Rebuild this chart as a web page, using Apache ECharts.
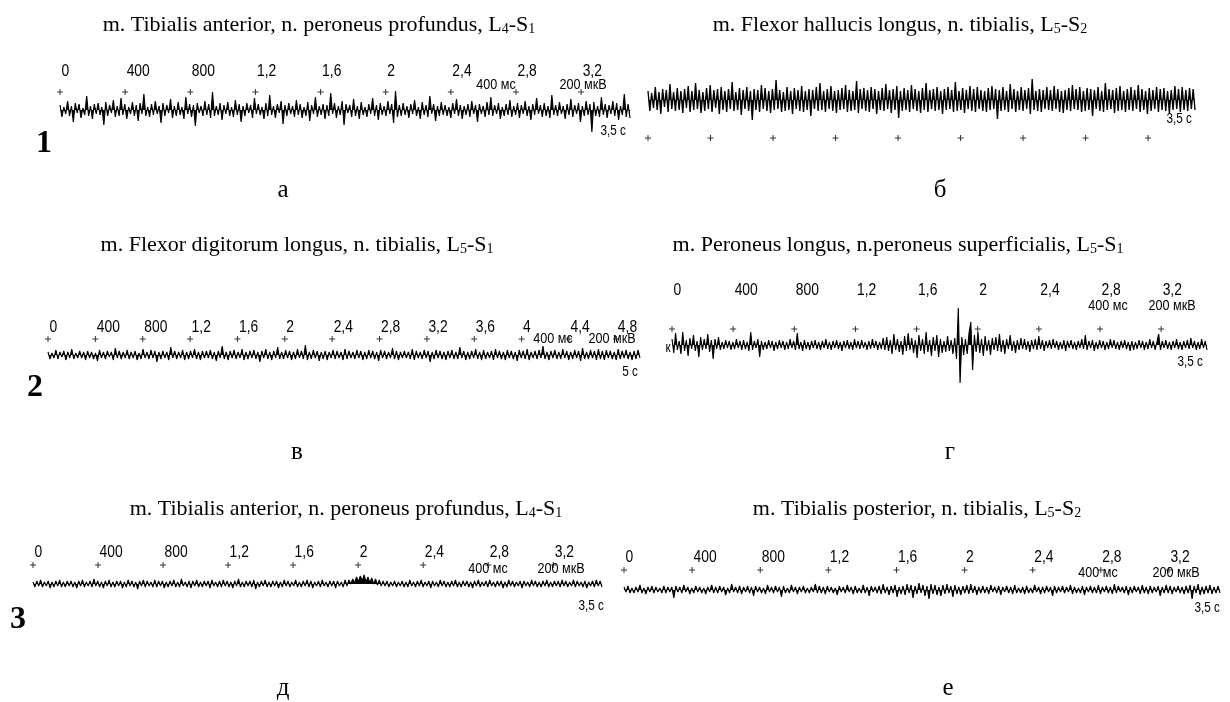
<!DOCTYPE html>
<html><head><meta charset="utf-8">
<script src="https://cdn.jsdelivr.net/npm/echarts@6/dist/echarts.min.js"></script>
<style>html,body{margin:0;padding:0;background:#fff}#c{width:1230px;height:702px}</style>
</head><body><div id="c"></div>
<script>
// ---- data (EMG amplitudes, display units, + = up) ----
const traceA=[5,-7,3,-4,9,-6,4,-12,7,-3,6,-8,2,-5,14,-6,4,-9,6,-4,
7,-5,3,-15,8,-6,5,-3,10,-7,4,-6,12,-5,6,-9,3,-4,8,-6,
5,-11,7,-4,16,-6,3,-7,6,-5,9,-4,4,-13,7,-6,5,-3,11,-8,
4,-6,8,-5,3,-9,13,-4,6,-7,5,-16,7,-3,4,-6,9,-5,6,-8,
18,-6,4,-5,7,-10,5,-4,8,-6,3,-7,10,-5,6,-12,4,-6,7,-3,
5,-8,12,-4,6,-5,3,-9,7,-6,15,-5,4,-8,6,-3,9,-14,5,-6,
7,-4,4,-7,10,-5,6,-8,3,-6,8,-11,5,-4,13,-7,4,-5,6,-9,
5,-6,17,-4,7,-8,4,-5,9,-15,6,-3,5,-7,11,-6,4,-9,8,-5,
3,-7,6,-4,12,-6,5,-10,7,-5,4,-6,9,-4,6,-13,19,-7,5,-6,
7,-5,4,-8,6,-4,10,-6,3,-9,8,-5,5,-7,14,-4,6,-11,4,-6,
8,-5,5,-6,3,-8,7,-4,11,-6,5,-9,4,-5,6,-7,9,-4,5,-12,
6,-4,4,-7,8,-5,13,-6,5,-4,7,-9,3,-6,6,-5,10,-7,4,-5,
7,-8,5,-4,9,-6,4,-10,6,-5,12,-4,5,-7,7,-6,4,-8,15,-5,
5,-6,8,-4,4,-9,6,-5,11,-7,5,-4,7,-12,4,-6,9,-5,6,-22,
8,-6,4,-7,13,-5,6,-8,5,-4,9,-6,7,-10,4,-5,16,-7,6,-8];
const traceB=[9,-11,7,-8,13,-10,8,-14,11,-7,10,-12,16,-9,8,-11,12,-10,9,-13,
11,-8,14,-12,9,-10,17,-9,10,-13,8,-11,12,-9,15,-12,10,-8,11,-14,
13,-10,9,-12,11,-9,18,-11,8,-10,12,-15,10,-9,13,-11,9,-20,11,-10,
10,-12,15,-9,12,-11,9,-13,11,-10,20,-9,10,-12,8,-11,13,-10,9,-14,
12,-9,10,-11,14,-12,9,-10,11,-16,10,-9,13,-11,17,-10,9,-12,11,-9,
14,-11,9,-13,10,-10,12,-9,15,-12,10,-11,9,-10,19,-13,11,-9,12,-11,
10,-12,13,-9,11,-14,9,-10,12,-11,16,-9,10,-13,11,-10,14,-18,9,-11,
12,-10,10,-12,15,-9,11,-11,9,-13,12,-10,17,-12,10,-9,11,-11,13,-10,
9,-14,11,-10,13,-9,10,-12,18,-11,9,-10,12,-13,10,-9,14,-11,11,-12,
13,-9,10,-11,9,-12,12,-10,14,-9,11,-19,10,-11,13,-10,9,-12,16,-9,
11,-12,9,-10,13,-11,10,-9,12,-14,21,-10,9,-11,11,-12,10,-9,13,-10,
10,-11,14,-9,11,-12,9,-13,10,-10,12,-11,15,-9,11,-10,13,-12,9,-11,
12,-10,11,-16,10,-9,13,-11,9,-12,17,-10,11,-9,10,-13,12,-11,14,-10,
9,-12,11,-10,13,-11,10,-9,15,-12,11,-10,9,-14,12,-11,10,-9,13,-12,
11,-10,12,-11,9,-13,10,-10,14,-9,11,-12,13,-10,10,-11,12,-9,11,-10];
const traceV=[3,-4,2,-3,5,-4,3,-2,4,-5,3,-3,6,-4,2,-3,4,-3,3,-5,
4,-3,3,-4,2,-6,5,-3,3,-4,4,-2,3,-5,7,-3,4,-4,3,-3,
5,-4,3,-3,4,-5,2,-4,6,-3,3,-4,5,-3,4,-7,3,-4,4,-3,
3,-5,8,-3,4,-4,3,-3,5,-5,3,-4,4,-3,6,-4,3,-5,4,-3,
4,-3,5,-4,3,-6,4,-3,9,-4,3,-5,4,-3,5,-4,3,-3,6,-5,
3,-4,4,-3,5,-4,3,-7,4,-3,6,-4,3,-5,4,-3,8,-4,3,-4,
5,-3,4,-5,3,-4,6,-3,4,-4,10,-5,3,-4,5,-3,4,-6,3,-4,
4,-5,3,-3,5,-4,4,-3,3,-5,6,-4,4,-3,3,-4,5,-3,4,-5,
3,-4,5,-3,4,-4,3,-6,5,-3,4,-4,3,-3,7,-4,4,-5,3,-3,
4,-3,3,-4,6,-5,4,-3,3,-4,5,-3,4,-7,3,-4,5,-3,4,-4,
3,-5,4,-3,5,-4,3,-4,8,-3,4,-5,3,-4,4,-3,6,-4,3,-5,
5,-4,3,-3,4,-5,6,-3,4,-4,3,-5,5,-3,4,-4,3,-6,5,-3,
4,-4,6,-5,3,-3,4,-4,5,-3,9,-4,3,-5,4,-3,5,-4,3,-4,
6,-3,4,-5,3,-4,5,-3,4,-6,7,-4,3,-4,5,-3,4,-5,6,-4,
4,-5,5,-3,4,-4,3,-5,6,-4,4,-3,5,-4,3,-5,4,-4,5,-3];
const traceG=[6,-8,12,-5,4,-9,13,-6,5,-11,7,-4,10,-6,4,-12,8,-5,6,-4,
11,-7,5,-14,6,-4,8,-5,3,-4,5,-3,4,-5,3,-4,6,-3,4,-5,
5,-4,3,-6,13,-5,4,-3,6,-12,4,-5,3,-4,5,-3,4,-6,3,-4,
5,-3,4,-5,3,-4,6,-3,4,-5,12,-4,3,-6,5,-4,3,-5,4,-3,
5,-4,3,-5,4,-3,6,-4,3,-5,4,-3,5,-4,3,-6,4,-3,5,-4,
3,-5,6,-3,4,-4,5,-3,3,-5,4,-4,6,-3,4,-5,3,-4,7,-5,
8,-6,5,-9,11,-5,6,-7,4,-10,9,-6,12,-5,7,-8,5,-13,10,-6,
6,-9,13,-7,5,-11,8,-6,10,-12,6,-8,4,-7,9,-6,5,-9,7,-14,
37,-38,8,-10,6,-9,12,23,-25,10,-7,13,-8,6,-11,9,-6,5,-10,7,
-5,8,-6,11,-7,5,-9,6,-4,10,-6,4,-8,5,-5,7,-4,6,-5,4,
-7,5,-4,6,-5,9,-4,5,-6,4,-3,5,-4,6,-3,4,-5,3,-4,5,
-6,4,-3,5,-4,3,-5,4,-3,6,-4,10,-5,4,-3,5,-6,3,-4,5,
-3,4,-5,3,-4,6,-3,5,-4,3,-5,4,-3,5,-4,3,-6,4,-5,3,
-4,5,-3,4,-5,3,-4,6,-3,4,-5,3,11,-5,4,-3,5,-4,3,-5,
4,-3,6,-4,3,-5,4,-3,5,-4,7,-3,4,-5,3,-4,6,-3,4,-5];
const traceD=[2,-3,3,-2,4,-3,2,-2,3,-4,2,-3,3,-2,4,-3,2,-3,3,-2,
3,-3,2,-4,3,-2,4,-3,2,-2,3,-3,5,-2,3,-3,2,-4,3,-2,
4,-3,2,-3,3,-2,3,-4,2,-3,4,-2,3,-3,2,-5,3,-2,4,-3,
3,-2,2,-3,4,-3,3,-2,3,-4,2,-3,3,-2,4,-3,2,-3,5,-2,
2,-3,3,-4,3,-2,4,-3,2,-3,3,-2,3,-4,4,-2,2,-3,3,-3,
4,-2,3,-3,2,-4,3,-2,5,-3,2,-3,3,-2,3,-3,4,-5,2,-3,
3,-2,4,-3,2,-3,3,-2,3,-4,2,-3,4,-2,3,-3,2,-2,4,-3,
2,-3,3,-2,4,-3,3,-4,2,-2,3,-3,4,-2,2,-3,3,-2,3,-4,
3,-2,2,-3,4,-2,4,0,5,1,7,2,8,3,9,2,7,1,6,0,
5,-1,4,-2,3,-2,3,-3,2,-2,3,-3,2,-2,3,-3,2,-3,4,-2,
2,-3,3,-2,4,-3,2,-2,3,-4,3,-2,2,-3,4,-2,3,-3,2,-3,
3,-2,4,-3,2,-3,3,-2,3,-3,2,-4,3,-2,4,-3,2,-2,3,-3,
4,-2,2,-3,3,-2,3,-4,2,-3,4,-2,3,-3,2,-2,3,-4,3,-2,
2,-3,4,-2,3,-3,2,-3,3,-2,4,-3,2,-3,3,-2,3,-3,4,-2,
3,-3,2,-2,4,-3,3,-2,2,-3,3,-4,2,-2,3,-3,4,-2,3,-3];
const traceE=[3,-2,4,-3,2,-3,3,-2,5,-3,2,-4,3,-2,4,-3,3,-2,2,-3,
4,-3,3,-2,3,-8,4,-2,3,-3,5,-2,3,-4,2,-3,4,-2,3,-3,
2,-4,3,-2,5,-3,3,-3,4,-2,3,-5,2,-3,6,-2,3,-3,4,-4,
3,-2,4,-3,3,-6,4,-2,3,-3,2,-4,5,-2,3,-3,4,-2,3,-7,
4,-3,2,-3,5,-2,3,-4,3,-2,4,-3,2,-3,3,-2,6,-3,4,-3,
3,-4,4,-2,3,-3,2,-5,4,-2,3,-3,5,-2,3,-4,4,-3,2,-3,
5,-3,3,-6,4,-2,3,-3,4,-4,6,-3,3,-5,4,-3,5,-7,3,-4,
4,-5,6,-3,5,-8,4,-4,7,-3,5,-6,4,-9,6,-4,5,-5,3,-6,
5,-4,6,-3,4,-7,5,-4,3,-5,4,-3,5,-4,6,-3,4,-5,3,-3,
4,-3,3,-4,5,-2,3,-3,4,-5,3,-2,4,-3,3,-4,5,-3,2,-3,
3,-4,4,-3,2,-3,5,-2,3,-4,3,-3,4,-2,3,-6,4,-3,3,-2,
4,-3,3,-2,5,-4,3,-3,2,-3,4,-5,3,-2,4,-3,3,-3,5,-4,
3,-2,4,-3,3,-4,6,-3,4,-2,3,-3,4,-5,3,-3,4,-2,3,-4,
5,-3,3,-4,4,-3,3,-2,4,-6,3,-3,5,-3,4,-4,3,-2,4,-3,
3,-4,4,-3,5,-9,4,-3,6,-5,3,-4,4,-3,5,-4,3,-3,4,-3];
const tickLabels35=['0','400','800','1,2','1,6','2','2,4','2,8','3,2'];
const tickLabels5=['0','400','800','1,2','1,6','2','2,4','2,8','3,2','3,6','4','4,4','4,8'];
const tickStep=0.4;
const durations=[3.5,3.5,5,3.5,3.5,3.5];
const durLabels=['3,5 с','3,5 с','5 с','3,5 с','3,5 с','3,5 с'];
const timeScale='400 мс', ampScale='200 мкВ';
const muscles=[
 ['m. Tibialis anterior, n. peroneus profundus, L','4','-S','1'],
 ['m. Flexor hallucis longus, n. tibialis, L','5','-S','2'],
 ['m. Flexor digitorum longus, n. tibialis, L','5','-S','1'],
 ['m. Peroneus longus, n.peroneus superficialis, L','5','-S','1'],
 ['m. Tibialis anterior, n. peroneus profundus, L','4','-S','1'],
 ['m. Tibialis posterior, n. tibialis, L','5','-S','2']];
const letters=['а','б','в','г','д','е'];
const rowNums=['1','2','3'];
const traces=[traceA,traceB,traceV,traceG,traceD,traceE];
const labelSets=[tickLabels35,null,tickLabels5,tickLabels35,tickLabels35,tickLabels35];

// ---- layout ----
const P=[
 {x0:60,x1:630,cy:110,cross:18,gap:21,tx:319,ty:23,lx:283,ly:190,sc:[496,85,583,85],end:[626,131],lw:1.15},
 {x0:648,x1:1195,cy:100,cross:-38,gap:0,tx:900,ty:23,lx:940,ly:190,sc:null,end:[1192,119],lw:1.35},
 {x0:48,x1:640,cy:355,cross:16,gap:12,tx:297,ty:243,lx:297,ly:452,sc:[553,339,612,339],end:[638,372],lw:1.1},
 {x0:672,x1:1207,cy:345,cross:16,gap:39,tx:898,ty:243,lx:950,ly:452,sc:[1108,306,1172,306],end:[1203,362],lw:1.1},
 {x0:33,x1:602,cy:584,cross:19,gap:13,tx:346,ty:507,lx:283,ly:688,sc:[488,569,561,569],end:[604,606],lw:1.1},
 {x0:624,x1:1220,cy:590,cross:20,gap:13,tx:917,ty:507,lx:948,ly:688,sc:[1098,573,1176,573],end:[1220,608],lw:1.1}];
const NUMPOS=[[44,144],[35,388],[18,620]];
const sans="'Liberation Sans','Arial',sans-serif";
const serif="'Liberation Serif','Times New Roman',serif";
const plus='path://M2.5,0H3.5V2.5H6V3.5H3.5V6H2.5V3.5H0V2.5H2.5Z';
const SX=0.84;

const grid=[],xAxis=[],yAxis=[],series=[],graphic=[];
P.forEach((p,i)=>{
  const H=100, dur=durations[i], tr=traces[i], n=tr.length;
  grid.push({left:p.x0,width:p.x1-p.x0,top:p.cy-H/2,height:H});
  xAxis.push({gridIndex:i,type:'value',min:0,max:dur,show:false});
  yAxis.push({gridIndex:i,type:'value',min:-H/2,max:H/2,show:false});
  series.push({type:'line',xAxisIndex:i,yAxisIndex:i,showSymbol:false,symbol:'none',
    data:tr.map((v,k)=>[k*dur/(n-1),v]),lineStyle:{color:'#000',width:p.lw},
    areaStyle:{color:'#000',opacity:1,origin:0},clip:false,silent:true});
  const ticks=[];
  for(let k=0;k*tickStep<dur-0.05;k++) ticks.push(+(k*tickStep).toFixed(2));
  series.push({type:'scatter',xAxisIndex:i,yAxisIndex:i,symbol:plus,symbolSize:6,
    itemStyle:{color:'#000'},silent:true,data:ticks.map(t=>[t,p.cross])});
  graphic.push({type:'text',x:p.tx,y:p.ty,style:{
    text:'{m|'+muscles[i][0]+'}{s|'+muscles[i][1]+'}{m|'+muscles[i][2]+'}{s|'+muscles[i][3]+'}',
    rich:{m:{fontFamily:serif,fontSize:22,fill:'#000',verticalAlign:'bottom',lineHeight:26},
          s:{fontFamily:serif,fontSize:14,fill:'#000',verticalAlign:'bottom',lineHeight:21}},
    textAlign:'center',textVerticalAlign:'middle'}});
  graphic.push({type:'text',x:p.lx,y:p.ly,style:{text:letters[i],fontFamily:serif,fontSize:25,fill:'#000',textAlign:'center',textVerticalAlign:'middle'}});
  if(p.sc){
    graphic.push({type:'text',x:p.sc[0],y:p.sc[1],scaleX:SX,style:{text:timeScale,fontFamily:sans,fontSize:15,fill:'#000',textAlign:'center',textVerticalAlign:'middle'}});
    graphic.push({type:'text',x:p.sc[2],y:p.sc[3],scaleX:SX,style:{text:ampScale,fontFamily:sans,fontSize:15,fill:'#000',textAlign:'center',textVerticalAlign:'middle'}});
  }
  graphic.push({type:'text',x:p.end[0],y:p.end[1],scaleX:SX,style:{text:durLabels[i],fontFamily:sans,fontSize:14,fill:'#000',textAlign:'right',textVerticalAlign:'middle'}});
});
rowNums.forEach((r,i)=>graphic.push({type:'text',x:NUMPOS[i][0],y:NUMPOS[i][1],style:{text:r,fontFamily:serif,fontWeight:'bold',fontSize:32,fill:'#000',textAlign:'center',textVerticalAlign:'middle'}}));
graphic.push({type:'text',x:668,y:348,scaleX:SX,style:{text:'к',fontFamily:sans,fontSize:14,fill:'#000',textAlign:'center',textVerticalAlign:'middle'}});

const chart=echarts.init(document.getElementById('c'),null,{renderer:'canvas'});
chart.setOption({animation:false,backgroundColor:'#fff',grid,xAxis,yAxis,series});
// tick labels placed through the axes' own scales
P.forEach((p,i)=>{
  const labs=labelSets[i]; if(!labs) return;
  labs.forEach((s,k)=>{
    const pt=chart.convertToPixel({gridIndex:i},[k*tickStep,p.cross]);
    graphic.push({type:'text',x:pt[0]+1.5,y:pt[1]-p.gap,scaleX:SX,style:{text:s,fontFamily:sans,fontSize:16.5,fill:'#000',textAlign:'left',textVerticalAlign:'middle'}});
  });
});
chart.setOption({graphic});
</script></body></html>
